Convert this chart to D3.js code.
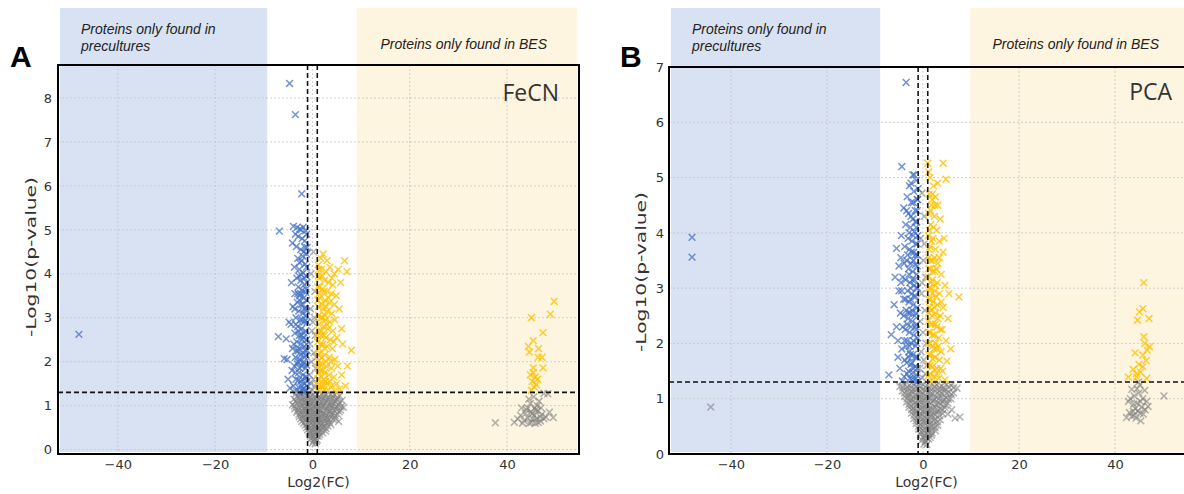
<!DOCTYPE html>
<html><head><meta charset="utf-8">
<script src="https://cdn.jsdelivr.net/npm/d3@7"></script>
<style>body{margin:0;background:#fff}svg{display:block}</style>
</head><body><svg id="c" width="1184" height="494"></svg>
<script>
// ---------- data ----------
const xTicks = [-40, -20, 0, 20, 40];
const yTicksA = [0, 1, 2, 3, 4, 5, 6, 7, 8];
const yTicksB = [0, 1, 2, 3, 4, 5, 6, 7];
const fcCut = 1;
const pCut = 1.301;
const panelTitles = ["FeCN", "PCA"];
const panelLetters = ["A", "B"];
const regionLeftText = ["Proteins only found in", "precultures"];
const regionRightText = "Proteins only found in BES";
const xLabel = "Log2(FC)";
const yLabel = "-Log10(p-value)";

const aBlue = [[-48,2.62],[-4.7,8.33],[-3.5,7.62],[-2.2,5.82],[-6.8,4.97],[-7.0,2.57],[-5.4,2.52],[-5.8,2.07],[-5.2,2.05],
[-3.9,5.08],[-3.2,5.05],[-2.6,5.02],[-1.9,5.06],[-1.4,4.98],[-3.5,4.9],[-2.9,4.85],[-2.1,4.8],[-1.6,4.75],[-4.1,4.7],[-3.3,4.62],[-2.4,4.55],[-1.8,4.5],[-1.2,4.45],[-3.0,4.35],[-2.2,4.3],[-1.5,4.22],[-3.7,4.15],[-2.7,4.1],[-1.9,4.02],[-1.3,3.95],[-3.2,3.9],[-2.4,3.85],[-4.3,3.8],[-1.7,3.75],[-2.9,3.7],[-2.1,3.62],[-1.4,3.58],[-3.6,3.55],[-2.6,3.5],[-1.8,3.45],[-1.2,3.4],[-3.1,3.35],[-2.3,3.3],[-4.0,3.25],[-1.6,3.22],[-2.8,3.15],[-2.0,3.1],[-1.3,3.05],[-3.4,3.0],[-2.5,2.95],[-1.7,2.9],[-4.4,2.85],[-3.0,2.8],[-2.2,2.75],[-1.4,2.7],[-3.6,2.65],[-2.7,2.6],[-1.9,2.55],[-1.2,2.5],[-3.2,2.45],[-2.4,2.4],[-1.6,2.35],[-4.1,2.3],[-2.9,2.25],[-2.0,2.2],[-1.3,2.15],[-3.5,2.1],[-2.6,2.05],[-1.8,2.0],[-3.1,1.95],[-2.2,1.9],[-1.4,1.85],[-4.2,1.8],[-2.8,1.75],[-1.9,1.7],[-1.2,1.65],[-3.4,1.6],[-2.4,1.55],[-1.6,1.5],[-3.9,1.45],[-2.9,1.42],[-2.0,1.38],[-1.3,1.35],[-4.6,1.4],[-3.3,1.33],[-1.7,1.32],[-2.6,1.31],
[-1.5,4.6],[-2.0,4.4],[-1.1,3.8],[-2.3,3.98],[-1.5,3.2],[-1.1,2.9],[-2.3,2.6],[-1.1,2.25],[-1.6,2.1],[-2.6,1.85],[-1.1,1.55],[-2.2,1.45],[-3.7,1.9],[-3.8,2.4],[-4.8,2.9],[-5.0,1.6],
[-1.2,4.15],[-2.6,4.25],[-1.6,3.9],[-2.8,3.95],[-1.3,3.65],[-2.4,3.55],[-1.9,3.3],[-1.2,3.15],[-2.7,3.4],[-1.5,2.95],[-2.1,2.95],[-2.9,2.7],[-1.7,2.65],[-1.2,2.4],[-2.1,2.5],[-2.7,2.3],[-1.5,2.25],[-1.9,1.95],[-1.2,1.92],[-2.4,2.15],[-3.0,2.0],[-1.5,1.65],[-2.1,1.6],[-2.9,1.58],[-1.2,1.45],[-1.8,1.38],[-3.5,1.75],[-3.3,2.25],[-3.4,2.85],[-3.0,3.55],[-3.6,3.2],[-1.1,4.6],[-2.3,5.0],[-1.2,4.9]];

const aYellow = [[2.2,4.45],[6.6,4.3],[7.1,4.05],[8.0,2.26],[1.2,4.2],[1.8,4.1],[2.8,4.05],[3.6,4.15],[4.5,4.0],[5.3,4.1],[1.4,3.9],[2.5,3.85],[3.3,3.8],[4.2,3.75],[5.8,3.8],[1.1,3.7],[2.0,3.65],[3.0,3.6],[3.9,3.55],[4.9,3.5],[1.6,3.45],[2.6,3.4],[3.5,3.35],[4.5,3.3],[1.2,3.25],[2.2,3.2],[3.1,3.15],[4.0,3.1],[5.5,3.2],[1.7,3.0],[2.7,2.95],[3.6,2.9],[4.6,2.95],[1.3,2.85],[2.3,2.8],[3.2,2.75],[4.2,2.7],[6.0,2.75],[1.8,2.6],[2.8,2.55],[3.7,2.5],[5.0,2.55],[1.1,2.45],[2.1,2.4],[3.0,2.35],[4.1,2.3],[6.2,2.4],[1.5,2.2],[2.5,2.15],[3.5,2.1],[4.6,2.05],[1.2,2.0],[2.0,1.95],[2.9,1.9],[3.9,1.85],[5.2,1.9],[1.6,1.8],[2.5,1.75],[3.4,1.7],[4.4,1.65],[6.0,1.7],[1.1,1.6],[2.0,1.55],[3.0,1.5],[4.0,1.45],[5.0,1.5],[1.5,1.4],[2.4,1.37],[3.3,1.35],[4.6,1.33],[5.6,1.38],[6.8,1.45],[7.2,1.9],
[1.4,3.55],[2.6,3.05],[1.9,2.7],[1.4,2.3],[2.4,1.6],[1.9,1.45],[3.6,1.55],[1.7,4.35],[3.0,4.3],[1.3,1.75],
[1.2,3.95],[2.0,3.95],[1.5,3.7],[2.4,3.6],[1.1,3.4],[1.9,3.3],[2.8,3.25],[1.3,3.05],[2.1,3.0],[3.0,2.85],[1.5,2.7],[2.4,2.6],[1.1,2.6],[1.7,2.4],[2.6,2.3],[1.2,2.15],[1.9,2.1],[2.8,2.0],[1.5,1.95],[2.2,1.8],[1.2,1.85],[1.8,1.65],[2.7,1.55],[1.2,1.45],[2.1,1.42],[3.8,2.0],[4.4,2.45],[3.3,3.45],[4.0,3.9],[1.3,4.1],
[49.7,3.37],[48.9,3.08],[45.0,3.0],[47.4,2.66],[45.4,2.48],[44.4,2.35],[44.6,2.22],[46.4,2.1],[47.2,2.1],[45.4,1.86],[47.4,1.86],[45.4,1.75],[45.8,1.65],[45.2,1.55],[46.0,1.48],[45.6,1.42],[45.0,1.35],[46.3,1.6],[44.8,1.7],[46.5,2.3]];

const aGrey = [[0.2,4.5],[-0.3,4.0],[0.5,3.6],[-0.4,3.2],[0.1,2.9],[0.6,2.6],[-0.5,2.4],[0.3,2.2],[-0.2,2.0],[0.7,1.85],[-0.6,1.7],[0.2,1.6],[-0.3,1.5],[0.5,1.45],[0.0,1.35],[-0.7,1.3],[0.8,2.1],[-0.1,2.7],[0.4,3.0],
[-3.4,1.27],[-2.5,1.25],[-1.6,1.28],[-0.8,1.24],[0.1,1.26],[1.0,1.25],[1.9,1.27],[2.8,1.24],[3.7,1.26],[4.6,1.25],[5.6,1.22],
[-3.8,1.15],[-2.9,1.17],[-2.0,1.14],[-1.2,1.16],[-0.4,1.13],[0.5,1.16],[1.4,1.15],[2.3,1.17],[3.2,1.13],[4.1,1.16],[5.0,1.14],[6.1,1.12],
[-4.1,1.02],[-3.2,1.06],[-2.4,1.04],[-1.6,1.07],[-0.8,1.03],[0.0,1.05],[0.9,1.07],[1.8,1.04],[2.7,1.06],[3.6,1.03],[4.5,1.05],[5.4,1.02],[6.4,0.96],
[-3.6,0.93],[-2.8,0.96],[-1.9,0.94],[-1.1,0.97],[-0.3,0.93],[0.5,0.96],[1.3,0.94],[2.2,0.97],[3.1,0.93],[4.0,0.95],[4.9,0.92],[5.8,0.9],
[-3.2,0.85],[-2.3,0.83],[-1.5,0.86],[-0.7,0.84],[0.1,0.86],[0.9,0.83],[1.7,0.85],[2.6,0.82],[3.5,0.85],[4.4,0.83],[5.2,0.8],
[-2.7,0.75],[-1.9,0.73],[-1.1,0.76],[-0.3,0.74],[0.5,0.76],[1.3,0.73],[2.1,0.75],[3.0,0.72],[3.9,0.74],[4.8,0.7],
[-2.2,0.64],[-1.4,0.66],[-0.6,0.63],[0.2,0.65],[1.0,0.66],[1.8,0.63],[2.6,0.65],[3.5,0.62],[5.4,0.64],
[-1.5,0.55],[-0.8,0.53],[0.0,0.56],[0.8,0.54],[1.6,0.55],[2.4,0.52],[3.2,0.54],
[-1.0,0.45],[-0.3,0.43],[0.4,0.46],[1.1,0.44],[1.9,0.45],[2.7,0.42],
[-0.6,0.35],[0.1,0.33],[0.8,0.36],[1.5,0.34],[-0.3,0.25],[0.4,0.24],[1.0,0.22],[0.0,0.15],[0.6,0.13],
[-3.0,1.21],[-2.0,1.2],[-1.2,1.22],[-0.4,1.19],[0.6,1.21],[1.5,1.2],[2.4,1.22],[3.3,1.19],[4.2,1.21],[5.1,1.18],
[-3.4,1.1],[-2.5,1.09],[-1.6,1.11],[-0.8,1.08],[0.1,1.1],[1.0,1.11],[1.9,1.09],[2.8,1.1],[3.7,1.08],[4.6,1.1],[5.6,1.07],
[-3.7,0.99],[-2.0,1.0],[-1.2,0.98],[-0.4,1.01],[0.4,0.99],[1.3,1.0],[2.2,1.01],[3.1,0.98],[4.0,1.0],[4.9,0.98],[5.9,0.97],
[-3.0,0.9],[-2.3,0.89],[-1.5,0.91],[-0.7,0.88],[0.1,0.9],[0.9,0.91],[1.7,0.89],[2.6,0.9],[3.5,0.88],[4.4,0.9],[5.5,0.86],
[-2.8,0.8],[-1.9,0.79],[-1.1,0.81],[-0.3,0.78],[0.5,0.8],[1.3,0.79],[2.1,0.81],[3.0,0.78],[3.9,0.8],[4.7,0.77],
[-2.4,0.7],[-1.5,0.69],[-0.7,0.71],[0.1,0.68],[0.9,0.7],[1.7,0.69],[2.5,0.71],[3.4,0.68],[4.3,0.69],
[-1.8,0.6],[-1.0,0.59],[-0.2,0.61],[0.6,0.58],[1.4,0.6],[2.2,0.59],[3.0,0.61],[3.8,0.57],
[-1.2,0.5],[-0.4,0.49],[0.4,0.51],[1.2,0.49],[2.0,0.5],[2.8,0.48],
[-0.7,0.4],[0.0,0.39],[0.7,0.41],[1.4,0.39],[2.1,0.38],[-0.4,0.3],[0.3,0.29],[1.2,0.3],[0.2,0.2],[0.8,0.19],
[37.6,0.61],[41.5,0.62],[42.8,0.78],[43.5,0.66],[44.0,0.9],[44.3,0.72],[44.8,1.05],[45.0,0.62],[45.2,0.82],[45.5,1.2],[45.7,0.95],[46.0,0.7],[46.3,0.88],[46.6,1.1],[46.9,0.65],[47.2,0.8],[47.6,1.28],[48.0,0.74],[48.4,1.27],[49.5,0.73],[43.0,0.95],[44.5,1.15],[45.8,0.6],[46.2,1.0],[47.0,0.95],[48.7,0.85],[42.2,0.7],[43.8,0.82],[45.3,0.7],[44.6,0.6],
[44.2,0.95],[45.6,0.78],[46.8,0.75],[44.9,0.85],[45.9,0.9],[43.2,0.6],[47.6,0.7],[46.4,0.62]];

const bBlue = [[-48.1,3.92],[-48.1,3.56],[-3.5,6.72],[-4.4,5.2],[-2.1,5.05],[-5.5,3.72],[-5.8,3.2],[-6.6,2.16],[-7.1,1.43],
[-1.4,4.95],[-2.8,4.85],[-1.9,4.75],[-3.3,4.65],[-1.2,4.6],[-2.4,4.55],[-4.0,4.45],[-1.6,4.4],[-3.0,4.35],[-2.1,4.25],[-1.3,4.2],[-3.6,4.15],[-2.6,4.1],[-1.8,4.02],[-4.5,3.95],[-1.1,3.95],[-3.1,3.9],[-2.3,3.85],[-1.5,3.8],[-3.8,3.75],[-2.8,3.7],[-1.9,3.65],[-1.2,3.6],[-4.6,3.55],[-3.4,3.5],[-2.5,3.45],[-1.6,3.42],[-3.0,3.35],[-2.1,3.3],[-1.3,3.25],[-4.2,3.2],[-3.6,3.15],[-2.7,3.1],[-1.8,3.05],[-1.1,3.0],[-5.0,2.95],[-3.2,2.95],[-2.3,2.9],[-1.5,2.85],[-4.0,2.8],[-2.9,2.75],[-2.0,2.7],[-1.2,2.65],[-3.5,2.6],[-4.7,2.55],[-2.6,2.55],[-1.7,2.5],[-3.1,2.45],[-2.2,2.4],[-1.3,2.35],[-4.2,2.3],[-3.7,2.25],[-2.8,2.2],[-1.9,2.15],[-1.1,2.1],[-5.2,2.05],[-3.3,2.05],[-2.4,2.0],[-1.5,1.95],[-4.4,1.9],[-2.9,1.85],[-2.0,1.8],[-1.2,1.75],[-3.8,1.7],[-3.4,1.65],[-2.5,1.62],[-1.6,1.58],[-4.8,1.55],[-3.0,1.5],[-2.1,1.47],[-1.3,1.43],[-3.9,1.4],[-2.7,1.37],[-1.8,1.34],[-4.3,1.32],[-1.1,1.31],[-2.3,1.65],[-1.4,2.25],[-2.0,3.5],[-1.4,4.1],[-2.5,4.9],[-3.4,4.4],[-1.7,3.15],[-2.6,2.8],[-3.8,2.05],[-5.5,2.3],[-5.2,1.75],[-6.0,2.7],[-5.0,3.4],[-4.4,2.95],[-1.0,4.8],
[-1.2,4.4],[-2.0,4.55],[-1.6,4.2],[-2.5,4.3],[-1.2,3.8],[-2.0,3.95],[-2.9,4.0],[-1.6,3.6],[-2.4,3.65],[-3.2,3.6],[-1.2,3.4],[-2.2,3.15],[-2.9,3.25],[-1.4,3.0],[-1.9,2.85],[-2.6,3.0],[-3.6,2.8],[-1.4,2.55],[-2.3,2.6],[-3.0,2.55],[-1.6,2.3],[-2.5,2.3],[-3.3,2.35],[-1.3,2.0],[-2.0,2.05],[-2.8,1.95],[-3.5,1.95],[-1.6,1.75],[-2.6,1.8],[-1.2,1.55],[-2.0,1.55],[-3.3,1.45],[-1.5,1.37],[-2.4,1.35],[-3.0,1.75],[-4.0,2.5],[-4.6,3.1],[-3.9,3.45],[-1.1,4.6],[-1.8,5.05]];

const bYellow = [[1.0,5.26],[4.2,5.26],[4.8,4.97],[3.1,4.9],[3.1,4.5],[7.5,2.84],[1.5,5.0],[2.2,4.85],[1.3,4.7],[2.6,4.65],[1.8,4.5],[1.2,4.35],[2.4,4.3],[3.6,4.25],[1.6,4.15],[2.9,4.05],[1.1,3.95],[2.1,3.9],[3.4,3.85],[1.5,3.75],[2.6,3.7],[4.2,3.65],[1.2,3.55],[2.0,3.5],[3.1,3.45],[1.6,3.35],[2.5,3.3],[3.8,3.25],[1.1,3.2],[2.0,3.15],[3.0,3.1],[4.6,3.05],[1.5,3.0],[2.4,2.95],[3.4,2.9],[1.2,2.8],[2.1,2.75],[3.0,2.7],[4.2,2.65],[1.6,2.6],[2.6,2.55],[3.6,2.5],[5.2,2.45],[1.1,2.4],[2.0,2.35],[2.9,2.3],[4.0,2.25],[1.5,2.2],[2.4,2.15],[3.3,2.1],[4.8,2.05],[1.2,2.0],[2.0,1.95],[2.9,1.9],[3.8,1.85],[1.6,1.8],[2.5,1.75],[3.4,1.7],[5.0,1.68],[1.1,1.62],[2.0,1.58],[2.9,1.55],[4.1,1.5],[1.5,1.45],[2.4,1.4],[3.3,1.37],[4.6,1.34],[1.9,1.32],[5.8,1.9],[5.4,2.9],[4.4,3.9],[1.9,4.6],[1.4,2.65],[2.6,2.0],
[1.2,5.1],[2.0,4.7],[1.6,4.4],[2.5,4.5],[1.3,4.05],[2.2,4.1],[1.8,3.85],[1.2,3.7],[2.4,3.55],[1.6,3.5],[1.2,3.35],[2.0,3.3],[2.8,3.35],[1.6,3.1],[2.6,3.05],[1.2,3.0],[1.9,2.9],[2.8,2.85],[1.6,2.8],[2.4,2.65],[1.2,2.55],[1.9,2.5],[3.1,2.45],[1.6,2.35],[2.6,2.35],[1.2,2.2],[2.0,2.15],[1.5,2.0],[2.3,1.9],[3.2,1.95],[1.2,1.8],[2.0,1.72],[1.5,1.6],[2.5,1.52],[1.2,1.42],[2.9,1.45],[3.7,1.55],[3.6,2.25],[3.8,2.75],[3.4,3.55],
[46.0,3.1],[45.8,2.63],[45.1,2.57],[47.1,2.45],[44.7,2.42],[46.0,2.12],[47.2,1.94],[46.7,1.88],[44.2,1.83],[45.8,1.79],[46.5,1.69],[45.8,1.58],[43.8,1.53],[44.5,1.45],[42.8,1.39],[46.6,1.37],[44.5,1.39],[45.3,1.48],[45.0,1.62],[46.2,2.0]];

const bGrey = [[-44.2,0.85],
[-0.2,4.72],[0.3,4.3],[-0.5,3.9],[0.1,3.5],[0.6,3.2],[-0.3,2.9],[0.4,2.6],[-0.6,2.4],[0.0,2.2],[0.7,2.0],[-0.4,1.85],[0.2,1.7],[-0.7,1.55],[0.5,1.45],[-0.1,1.38],[0.8,1.6],[-0.2,3.1],[0.3,3.8],
[-4.8,1.22],[-3.8,1.26],[-2.8,1.24],[-1.9,1.27],[-1.0,1.25],[0.0,1.26],[0.9,1.24],[1.9,1.27],[2.9,1.25],[3.9,1.23],[4.9,1.26],[5.9,1.24],[7.1,1.19],
[-4.3,1.14],[-3.3,1.16],[-2.4,1.13],[-1.5,1.16],[-0.6,1.14],[0.4,1.15],[1.4,1.13],[2.4,1.16],[3.4,1.14],[4.4,1.15],[5.4,1.12],[6.4,1.1],
[-3.8,1.04],[-2.9,1.06],[-2.0,1.03],[-1.1,1.05],[-0.2,1.07],[0.8,1.04],[1.8,1.06],[2.8,1.03],[3.8,1.05],[4.8,1.02],[5.8,1.0],
[-3.4,0.94],[-2.5,0.96],[-1.6,0.93],[-0.7,0.95],[0.2,0.97],[1.2,0.94],[2.2,0.96],[3.2,0.93],[4.2,0.95],[5.2,0.92],
[-2.9,0.85],[-2.0,0.83],[-1.1,0.86],[-0.2,0.84],[0.7,0.86],[1.6,0.83],[2.6,0.85],[3.6,0.82],[4.6,0.84],[6.0,0.8],
[-2.4,0.74],[-1.5,0.76],[-0.6,0.73],[0.3,0.75],[1.2,0.77],[2.1,0.74],[3.1,0.76],[4.1,0.73],[5.2,0.72],
[-1.9,0.64],[-1.0,0.66],[-0.1,0.63],[0.8,0.65],[1.7,0.67],[2.6,0.64],[3.6,0.62],[6.7,0.65],[7.7,0.67],
[-1.4,0.55],[-0.5,0.53],[0.4,0.56],[1.3,0.54],[2.2,0.55],[3.1,0.52],
[-0.9,0.45],[0.0,0.43],[0.9,0.46],[1.8,0.44],[2.6,0.42],
[-0.5,0.35],[0.3,0.33],[1.1,0.36],[1.8,0.34],[-0.2,0.25],[0.6,0.24],[1.2,0.27],[0.2,0.18],[0.8,0.17],
[-4.2,1.2],[-3.3,1.21],[-2.4,1.19],[-1.5,1.21],[-0.5,1.2],[0.5,1.21],[1.4,1.19],[2.4,1.21],[3.4,1.2],[4.4,1.19],[5.4,1.21],[6.4,1.2],
[-3.8,1.1],[-2.9,1.09],[-2.0,1.11],[-1.1,1.09],[-0.1,1.1],[0.9,1.11],[1.9,1.09],[2.9,1.1],[3.9,1.09],[4.9,1.1],[5.9,1.08],
[-3.3,1.0],[-2.4,0.99],[-1.5,1.01],[-0.6,0.99],[0.3,1.0],[1.3,1.01],[2.3,0.99],[3.3,1.0],[4.3,0.98],[5.3,0.99],
[-2.9,0.9],[-2.0,0.89],[-1.1,0.91],[-0.2,0.89],[0.7,0.9],[1.7,0.91],[2.7,0.89],[3.7,0.9],[4.7,0.88],
[-2.4,0.8],[-1.5,0.79],[-0.6,0.81],[0.3,0.79],[1.2,0.8],[2.1,0.81],[3.1,0.79],[4.1,0.8],
[-1.9,0.7],[-1.0,0.69],[-0.1,0.71],[0.8,0.69],[1.7,0.7],[2.6,0.71],[3.5,0.69],
[-1.4,0.6],[-0.5,0.59],[0.4,0.61],[1.3,0.59],[2.2,0.6],[3.0,0.58],
[-0.9,0.5],[0.0,0.49],[0.9,0.51],[1.8,0.5],[2.5,0.48],
[-0.4,0.4],[0.4,0.39],[1.2,0.41],[1.9,0.38],[0.0,0.3],[0.8,0.29],[1.5,0.3],[0.5,0.22],
[43.5,1.17],[45.2,1.25],[42.8,0.95],[46.6,0.95],[46.9,0.86],[43.8,0.77],[45.2,0.74],[42.4,0.66],[43.5,0.68],[44.4,0.65],[50.2,1.05],[44.6,0.92],[44.0,1.05],[45.0,1.1],[45.6,0.85],[44.2,0.82],[45.8,1.0],[44.8,0.78],[46.2,1.15],[43.2,1.0],[45.4,0.6],[44.9,1.3],
[44.0,0.7],[45.9,0.72],[43.9,0.9],[45.3,0.95],[46.3,0.8],[44.6,1.18],[43.0,0.75]];

// ---------- drawing ----------
const svg = d3.select("#c");
const colors = {blue: "#4472c4", yellow: "#ffc000", grey: "#7f7f7f"};

const panels = [
  {x: d3.scaleLinear().domain([-52.3, 54.8]).range([58, 579]),
   y: d3.scaleLinear().domain([-0.1, 8.75]).range([454, 65]),
   yTicks: yTicksA, blue: aBlue, yellow: aYellow, grey: aGrey,
   leftRegion: [-51.9, -9.3], rightRegion: [9.1, 54.4],
   letterX: 10, ylabX: 36, ylabY: 257, yTickX: 52, leftTextX: 81, rightTextEnd: 547, titleEnd: 559, titleY: 101},
  {x: d3.scaleLinear().domain([-52.9, 54.8]).range([669, 1186]),
   y: d3.scaleLinear().domain([0, 7]).range([454, 67]),
   yTicks: yTicksB, blue: bBlue, yellow: bYellow, grey: bGrey,
   leftRegion: [-52.5, -8.9], rightRegion: [9.8, 60],
   letterX: 620, ylabX: 646, ylabY: 272, yTickX: 664, leftTextX: 692, rightTextEnd: 1159, titleEnd: 1172, titleY: 100}
];

function cross(x, y, s) {
  return `M${x-s},${y-s}L${x+s},${y+s}M${x-s},${y+s}L${x+s},${y-s}`;
}

panels.forEach((p, i) => {
  const g = svg.append("g");
  const [x0, x1] = p.x.range();
  const [yb, yt] = p.y.range();

  // shaded regions
  g.append("rect").attr("x", p.x(p.leftRegion[0])).attr("y", 8)
    .attr("width", p.x(p.leftRegion[1]) - p.x(p.leftRegion[0])).attr("height", yb - 2 - 8)
    .attr("fill", "#d9e2f2");
  g.append("rect").attr("x", p.x(p.rightRegion[0])).attr("y", 8)
    .attr("width", Math.min(p.x(p.rightRegion[1]), 1184) - p.x(p.rightRegion[0])).attr("height", yb - 2 - 8)
    .attr("fill", "#fdf5df");

  // grid
  xTicks.forEach(t => {
    g.append("line").attr("x1", p.x(t)).attr("x2", p.x(t)).attr("y1", yt).attr("y2", yb)
      .attr("stroke", "#c4c4c4").attr("stroke-width", 0.8).attr("stroke-dasharray", "2,2");
  });
  p.yTicks.forEach(t => {
    g.append("line").attr("x1", x0).attr("x2", x1).attr("y1", p.y(t)).attr("y2", p.y(t))
      .attr("stroke", "#c4c4c4").attr("stroke-width", 0.8).attr("stroke-dasharray", "2,2");
  });

  // points
  const pts = [["grey", p.grey, 0.6], ["blue", p.blue, 0.75], ["yellow", p.yellow, 0.8]];
  pts.forEach(([c, arr, op]) => {
    g.append("g").selectAll("path").data(arr).join("path")
      .attr("d", d => cross(p.x(d[0]), p.y(d[1]), 3.4))
      .attr("stroke", colors[c]).attr("stroke-width", 1.5).attr("stroke-opacity", op).attr("fill", "none");
  });

  // threshold lines
  [-fcCut, fcCut].forEach(v => {
    g.append("line").attr("x1", p.x(v)).attr("x2", p.x(v)).attr("y1", yt).attr("y2", yb)
      .attr("stroke", "#111").attr("stroke-width", 1.6).attr("stroke-dasharray", "5,3");
  });
  g.append("line").attr("x1", x0).attr("x2", x1).attr("y1", p.y(pCut)).attr("y2", p.y(pCut))
    .attr("stroke", "#111").attr("stroke-width", 1.6).attr("stroke-dasharray", "5,3");

  // frame
  g.append("rect").attr("x", x0).attr("y", yt).attr("width", x1 - x0).attr("height", yb - yt)
    .attr("fill", "none").attr("stroke", "#000").attr("stroke-width", 2);

  // axes ticks and labels
  const xAxis = d3.axisBottom(p.x).tickValues(xTicks).tickSize(0).tickPadding(6)
    .tickFormat(d => d < 0 ? "\u2212" + Math.abs(d) : d);
  const xa = g.append("g").attr("transform", `translate(0,${yb})`).call(xAxis);
  xa.select(".domain").remove();
  xa.selectAll("text").attr("font-family", "DejaVu Sans").attr("font-size", 13).attr("fill", "#333");

  const yAxis = d3.axisLeft(p.y).tickValues(p.yTicks).tickSize(0).tickPadding(x0 - p.yTickX)
    .tickFormat(d3.format("d"));
  const ya = g.append("g").attr("transform", `translate(${x0},0)`).call(yAxis);
  ya.select(".domain").remove();
  ya.selectAll("text").attr("font-family", "DejaVu Sans").attr("font-size", 13).attr("fill", "#333");

  g.append("text").attr("x", (x0 + Math.min(x1, 1184)) / 2).attr("y", 487)
    .attr("text-anchor", "middle").attr("font-family", "DejaVu Sans").attr("font-size", 14).attr("fill", "#333")
    .text(xLabel);
  g.append("text").attr("transform", `translate(${p.ylabX},${p.ylabY}) rotate(-90)`)
    .attr("text-anchor", "middle").attr("font-family", "DejaVu Sans").attr("font-size", 14).attr("fill", "#333")
    .attr("textLength", 160).attr("lengthAdjust", "spacingAndGlyphs")
    .text(yLabel);

  // region texts
  regionLeftText.forEach((t, k) => {
    g.append("text").attr("x", p.leftTextX).attr("y", 34 + k * 17)
      .attr("font-family", "Liberation Sans").attr("font-style", "italic").attr("font-size", 14).attr("fill", "#222")
      .text(t);
  });
  g.append("text").attr("x", p.rightTextEnd).attr("y", 49).attr("text-anchor", "end")
    .attr("font-family", "Liberation Sans").attr("font-style", "italic").attr("font-size", 14).attr("fill", "#222")
    .text(regionRightText);

  // panel title
  g.append("text").attr("x", p.titleEnd).attr("y", p.titleY).attr("text-anchor", "end")
    .attr("font-family", "Open Sans").attr("font-size", 23).attr("fill", "#333").text(panelTitles[i]);

  // panel letter
  g.append("text").attr("x", p.letterX).attr("y", 67)
    .attr("font-family", "Liberation Sans").attr("font-weight", "bold").attr("font-size", 30).attr("fill", "#000")
    .text(panelLetters[i]);
});
</script>
</body></html>
